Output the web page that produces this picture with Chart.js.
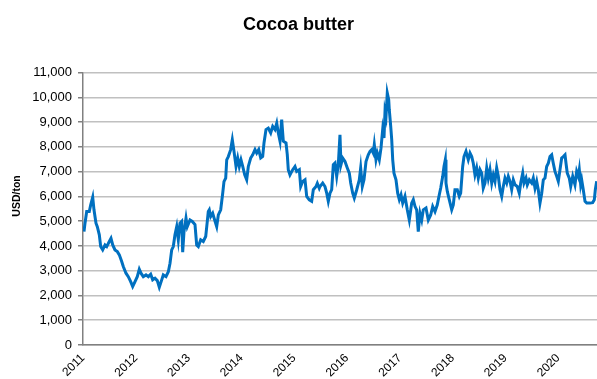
<!DOCTYPE html>
<html>
<head>
<meta charset="utf-8">
<script src="https://cdn.jsdelivr.net/npm/chart.js@4/dist/chart.umd.min.js"></script>
<style>
  html, body { margin: 0; padding: 0; background: #fff; }
  #wrap { width: 597px; height: 379px; }
</style>
</head>
<body>
<div id="wrap"><canvas id="c" width="597" height="379"></canvas></div>
<script>
// Decimal year of each observation
const years = [
  2011.019, 2011.038, 2011.070, 2011.119, 2011.146, 2011.184, 2011.208, 2011.246, 2011.271, 2011.309,
  2011.335, 2011.373, 2011.417, 2011.449, 2011.498, 2011.530, 2011.563, 2011.606, 2011.650, 2011.688,
  2011.733, 2011.763, 2011.814, 2011.858, 2011.903, 2011.941, 2011.985, 2012.028, 2012.066, 2012.098,
  2012.142, 2012.193, 2012.237, 2012.282, 2012.320, 2012.364, 2012.407, 2012.445, 2012.491, 2012.521,
  2012.572, 2012.616, 2012.648, 2012.680, 2012.710, 2012.742, 2012.775, 2012.805, 2012.837, 2012.869,
  2012.888, 2012.913, 2012.951, 2012.975, 2013.027, 2013.070, 2013.121, 2013.153, 2013.184, 2013.229,
  2013.278, 2013.324, 2013.354, 2013.373, 2013.392, 2013.419, 2013.456, 2013.500, 2013.532, 2013.563,
  2013.608, 2013.646, 2013.670, 2013.703, 2013.722, 2013.752, 2013.797, 2013.828, 2013.860, 2013.898,
  2013.930, 2013.960, 2013.992, 2014.025, 2014.063, 2014.100, 2014.131, 2014.176, 2014.214, 2014.258,
  2014.290, 2014.328, 2014.366, 2014.403, 2014.428, 2014.466, 2014.509, 2014.555, 2014.593, 2014.636,
  2014.669, 2014.699, 2014.731, 2014.763, 2014.794, 2014.845, 2014.869, 2014.888, 2014.920, 2014.972,
  2015.015, 2015.047, 2015.097, 2015.123, 2015.161, 2015.205, 2015.237, 2015.286, 2015.331, 2015.362,
  2015.413, 2015.438, 2015.475, 2015.489, 2015.540, 2015.583, 2015.616, 2015.646, 2015.678, 2015.710,
  2015.741, 2015.773, 2015.805, 2015.835, 2015.867, 2015.886, 2015.919, 2015.962, 2016.006, 2016.044,
  2016.070, 2016.108, 2016.138, 2016.184, 2016.233, 2016.259, 2016.290, 2016.322, 2016.360, 2016.403,
  2016.436, 2016.468, 2016.498, 2016.517, 2016.549, 2016.574, 2016.612, 2016.644, 2016.676, 2016.701,
  2016.720, 2016.739, 2016.763, 2016.790, 2016.801, 2016.828, 2016.847, 2016.866, 2016.890, 2016.928,
  2016.960, 2016.991, 2017.023, 2017.055, 2017.098, 2017.142, 2017.180, 2017.225, 2017.256, 2017.288,
  2017.320, 2017.350, 2017.383, 2017.415, 2017.445, 2017.496, 2017.540, 2017.585, 2017.623, 2017.667,
  2017.710, 2017.748, 2017.775, 2017.813, 2017.837, 2017.862, 2017.875, 2017.900, 2017.938, 2017.983,
  2018.013, 2018.045, 2018.089, 2018.127, 2018.153, 2018.191, 2018.216, 2018.254, 2018.297, 2018.330,
  2018.362, 2018.392, 2018.424, 2018.456, 2018.487, 2018.519, 2018.551, 2018.581, 2018.614, 2018.646,
  2018.676, 2018.708, 2018.741, 2018.771, 2018.803, 2018.835, 2018.866, 2018.898, 2018.930, 2018.960,
  2018.992, 2019.025, 2019.055, 2019.087, 2019.119, 2019.150, 2019.182, 2019.225, 2019.263, 2019.290,
  2019.328, 2019.352, 2019.390, 2019.415, 2019.453, 2019.498, 2019.528, 2019.561, 2019.593, 2019.623,
  2019.655, 2019.688, 2019.718, 2019.750, 2019.782, 2019.813, 2019.845, 2019.877, 2019.907, 2019.939,
  2019.972, 2020.002, 2020.034, 2020.066, 2020.097, 2020.129, 2020.148, 2020.172, 2020.210, 2020.237,
  2020.275, 2020.318, 2020.350, 2020.381, 2020.400, 2020.426, 2020.445, 2020.475, 2020.508, 2020.540,
  2020.602, 2020.653, 2020.684, 2020.703, 2020.729
];
// Cocoa butter price, USD/ton
const prices = [
  4580, 4920, 5390, 5390, 5660, 5970, 5460, 4920, 4780, 4450,
  3975, 3840, 4040, 3975, 4180, 4310, 4040, 3840, 3770, 3640,
  3370, 3170, 2900, 2760, 2560, 2360, 2560, 2760, 3060, 2900,
  2760, 2830, 2760, 2860, 2630, 2700, 2600, 2330, 2630, 2830,
  2760, 2960, 3300, 3840, 3975, 4450, 4780, 4250, 4920, 4990,
  3750, 4580, 5120, 4780, 5050, 4990, 4860, 4040, 3975, 4250,
  4180, 4380, 4990, 5390, 5460, 5190, 5320, 5000, 4780, 5250,
  5460, 6130, 6600, 6740, 7480, 7610, 7890, 8290, 7820, 7210,
  7550, 7210, 7480, 7210, 6870, 6670, 7210, 7550, 7680, 7890,
  7750, 7890, 7550, 7610, 8160, 8700, 8760, 8560, 8830, 8700,
  8960, 8560, 8230, 9100, 8230, 8160, 7690, 7080, 6870, 7080,
  7210, 7010, 7080, 6400, 6600, 6670, 6000, 5860, 5800, 6270,
  6400, 6530, 6330, 6400, 6540, 6400, 6130, 5800, 6130, 6270,
  7280, 7350, 6810, 7280, 8490, 7280, 7550, 7410, 7150, 6940,
  6540, 6130, 5930, 6270, 6670, 7150, 6400, 6670, 7410, 7680,
  7820, 7890, 7750, 8090, 7480, 7750, 7480, 7950, 8700, 8360,
  9430, 9230, 10180, 9910, 9500, 8830, 8290, 7480, 6940, 6670,
  6130, 5870, 6070, 5730, 6000, 5460, 5050, 5730, 5870, 5600,
  5460, 4580, 5320, 5050, 5460, 5530, 5050, 5250, 5600, 5390,
  5660, 6070, 6340, 6810, 7210, 7480, 6540, 6200, 5860, 5460,
  5660, 6270, 6270, 6000, 6130, 7210, 7610, 7820, 7480, 7750,
  7610, 7340, 6870, 7150, 6740, 7080, 6940, 6330, 6540, 7150,
  6740, 7080, 6540, 6870, 6610, 7150, 6810, 6270, 6000, 6400,
  6740, 6540, 6810, 6610, 6270, 6670, 6470, 6400, 6130, 6540,
  6940, 6540, 6740, 6470, 6670, 6540, 6740, 6330, 6610, 6270,
  5730, 6130, 6670, 6740, 7210, 7340, 7610, 7680, 7340, 7010,
  6810, 6610, 7080, 7550, 7610, 7680, 7340, 6940, 6740, 6400,
  6810, 6470, 7010, 6810, 7080, 6470, 6670, 6270, 5800, 5730,
  5730, 5750, 5860, 6270, 6610
];
const yearTicks = [2011, 2012, 2013, 2014, 2015, 2016, 2017, 2018, 2019, 2020];
const chartTitle = 'Cocoa butter';
const yAxisTitle = 'USD/ton';

const FONT = "'Liberation Sans', Arial, sans-serif";

const yTitlePlugin = {
  id: 'yTitle',
  afterDraw(chart) {
    const ctx = chart.ctx;
    ctx.save();
    ctx.font = 'bold 10.5px ' + FONT;
    ctx.fillStyle = '#000';
    ctx.textAlign = 'center';
    ctx.textBaseline = 'middle';
    ctx.translate(17, 196);
    ctx.rotate(-Math.PI / 2);
    ctx.fillText(yAxisTitle, 0, 0);
    ctx.restore();
  }
};

new Chart(document.getElementById('c'), {
  type: 'line',
  data: {
    datasets: [{
      data: years.map((x, i) => ({ x: x, y: prices[i] })),
      borderColor: '#0070C0',
      borderWidth: 3,
      pointRadius: 0,
      tension: 0,
      fill: false
    }]
  },
  options: {
    responsive: false,
    animation: false,
    layout: { padding: 0 },
    plugins: {
      legend: { display: false },
      tooltip: { enabled: false },
      title: {
        display: true,
        text: chartTitle,
        color: '#000',
        font: { family: FONT, size: 18, weight: 'bold' },
        padding: { top: 14, bottom: 37 }
      }
    },
    scales: {
      x: {
        type: 'linear',
        min: 2011,
        max: 2020.735,
        afterFit: (s) => { s.height = 34; },
        afterBuildTicks: (s) => { s.ticks = yearTicks.map(v => ({ value: v })); },
        ticks: {
          includeBounds: false,
          autoSkip: false,
          maxRotation: 45,
          minRotation: 45,
          padding: 2,
          color: '#000',
          font: { family: FONT, size: 12 },
          callback: (v) => String(v)
        },
        grid: { display: false, drawTicks: true, tickLength: 4 },
        border: { color: '#808080', width: 1.5 }
      },
      y: {
        min: 0,
        max: 11000,
        afterFit: (s) => { s.width = 83; },
        ticks: {
          stepSize: 1000,
          padding: 6,
          color: '#000',
          font: { family: FONT, size: 13 },
          callback: (v) => v.toLocaleString('en-US')
        },
        grid: { color: '#c0c0c0', lineWidth: 1.5, tickLength: 5, tickColor: '#808080' },
        border: { color: '#808080', width: 1.5 }
      }
    }
  },
  plugins: [yTitlePlugin]
});
</script>
</body>
</html>
